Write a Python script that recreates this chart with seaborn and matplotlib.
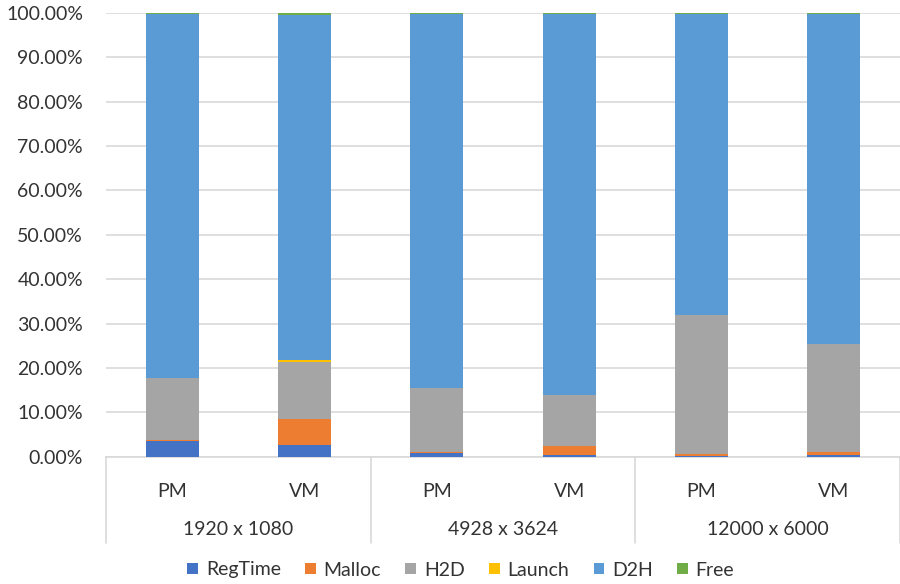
import matplotlib
matplotlib.use("Agg")
import matplotlib.pyplot as plt
import matplotlib.transforms as mtransforms
from matplotlib.patches import Patch
import seaborn as sns
import pandas as pd

# Categories (inner level: machine type, outer level: image resolution)
machines = ["PM", "VM", "PM", "VM", "PM", "VM"]
resolutions = ["1920 x 1080", "4928 x 3624", "12000 x 6000"]

# Share of total time per phase, in percent
reg_time = [3.6, 2.6, 0.85, 0.45, 0.2, 0.3]
malloc = [0.1, 6.0, 0.25, 2.05, 0.5, 0.8]
h2d = [14.0, 12.8, 14.3, 11.4, 31.3, 24.2]
launch = [0.02, 0.3, 0.02, 0.02, 0.02, 0.02]
d2h = [82.08, 77.8, 84.38, 85.88, 67.73, 74.43]
free = [0.2, 0.5, 0.2, 0.2, 0.25, 0.25]

series_names = ["RegTime", "Malloc", "H2D", "Launch", "D2H", "Free"]
series_values = [reg_time, malloc, h2d, launch, d2h, free]
colors = ["#4472C4", "#ED7D31", "#A5A5A5", "#FFC000", "#5B9BD5", "#70AD47"]

yticks = list(range(0, 101, 10))

sns.set_theme(style="white")
plt.rcParams["font.family"] = ["Lato", "DejaVu Sans"]
text_color = "#333333"
fs = 14

fig = plt.figure(figsize=(9, 5.84), dpi=100)
ax = fig.add_axes([0.1178, 0.218, 0.8822, 0.7597])

slots = [f"s{i}" for i in range(len(machines))]

# Stacked bars: draw cumulative totals from the top layer down
rows = []
for name, vals in zip(series_names, series_values):
    for s, v in zip(slots, vals):
        rows.append({"slot": s, "series": name, "value": v})
df = pd.DataFrame(rows)
df["cum"] = df.groupby("slot")["value"].cumsum()

for name, col in reversed(list(zip(series_names, colors))):
    sub = df[df["series"] == name]
    sns.barplot(data=sub, x="slot", y="cum", order=slots, color=col,
                width=0.4, saturation=1, ax=ax, linewidth=0, zorder=3)

ax.set_xlim(-0.5, len(slots) - 0.5)
ax.set_ylim(0, 100)
ax.set_yticks(yticks)
ax.set_yticklabels([f"{v:.2f}%" for v in yticks], fontsize=fs, color=text_color)
ax.set_xticks(range(len(slots)))
ax.set_xticklabels(machines, fontsize=fs, color=text_color)
ax.tick_params(axis="x", length=0, pad=19)
ax.tick_params(axis="y", length=0, pad=16.5)
ax.set_xlabel("")
ax.set_ylabel("")
ax.yaxis.grid(True, color="#D9D9D9", linewidth=1.2, zorder=0)
ax.set_axisbelow(True)
for side in ["left", "right", "top"]:
    ax.spines[side].set_visible(False)
ax.spines["bottom"].set_color("#D9D9D9")
ax.spines["bottom"].set_linewidth(1.2)

# Outer category level: group labels and separators
trans = mtransforms.blended_transform_factory(ax.transData, ax.transAxes)
line_bottom = -(543 - 456.7) / (456.7 - 13)
for b in [-0.5, 1.5, 3.5, 5.5]:
    ax.plot([b, b], [0, line_bottom], transform=trans, color="#D9D9D9",
            linewidth=1.2, clip_on=False, zorder=1)
for i, label in enumerate(resolutions):
    ax.text(2 * i + 0.5, -(530 - 456.7) / (456.7 - 13), label, transform=trans,
            ha="center", va="center", fontsize=fs, color=text_color)

handles = [Patch(facecolor=c, edgecolor="none", label=n) for n, c in zip(series_names, colors)]
fig.legend(handles=handles, loc="center", bbox_to_anchor=(0.512, 1 - 570 / 584),
           ncol=6, frameon=False, fontsize=fs, handlelength=0.55,
           handleheight=0.55, handletextpad=0.4, columnspacing=1.25,
           labelcolor=text_color)

fig.savefig("out.png", dpi=100)
